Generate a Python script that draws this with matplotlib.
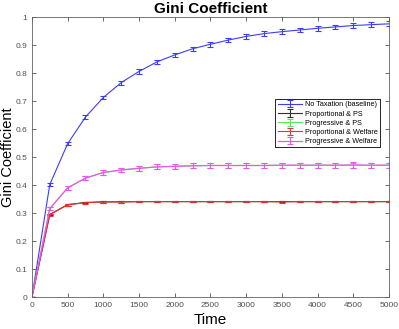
import numpy as np
import matplotlib
matplotlib.use('Agg')
import matplotlib.pyplot as plt

plt.rcParams['font.family'] = ['Liberation Sans', 'DejaVu Sans']

# Datos
tiempo = [0, 250, 500, 750, 1000, 1250, 1500, 1750, 2000, 2250, 2500,
          2750, 3000, 3250, 3500, 3750, 4000, 4250, 4500, 4750, 5000]

sin_impuestos = [0, 0.402, 0.548, 0.643, 0.713, 0.766, 0.806, 0.840, 0.865, 0.887, 0.903,
                 0.918, 0.931, 0.941, 0.948, 0.954, 0.960, 0.965, 0.970, 0.973, 0.976]
err_sin = [0, 0.005, 0.006, 0.006, 0.007, 0.007, 0.008, 0.008, 0.008, 0.008, 0.008,
           0.008, 0.008, 0.008, 0.008, 0.008, 0.008, 0.008, 0.009, 0.008, 0.009]

prop_ps = [0, 0.295, 0.330, 0.338, 0.340, 0.340, 0.341, 0.341, 0.341, 0.341, 0.341,
           0.341, 0.341, 0.341, 0.341, 0.341, 0.341, 0.341, 0.341, 0.341, 0.341]
err_prop_ps = [0, 0.003, 0.003, 0.003, 0.003, 0.003, 0.003, 0.003, 0.003, 0.003, 0.003,
               0.003, 0.003, 0.003, 0.003, 0.003, 0.003, 0.003, 0.003, 0.003, 0.003]

prog_ps = [0, 0.316, 0.390, 0.425, 0.445, 0.454, 0.460, 0.465, 0.467, 0.469, 0.470,
           0.470, 0.470, 0.470, 0.471, 0.471, 0.471, 0.471, 0.471, 0.471, 0.471]
err_prog_ps = [0, 0.006, 0.007, 0.007, 0.008, 0.008, 0.009, 0.009, 0.009, 0.009, 0.009,
               0.009, 0.009, 0.009, 0.009, 0.009, 0.009, 0.009, 0.009, 0.009, 0.009]

prop_welfare = [0, 0.294, 0.330, 0.337, 0.340, 0.340, 0.341, 0.341, 0.341, 0.341, 0.341,
                0.341, 0.341, 0.341, 0.340, 0.341, 0.341, 0.341, 0.341, 0.341, 0.341]
err_prop_welfare = [0, 0.003, 0.003, 0.003, 0.003, 0.003, 0.003, 0.003, 0.003, 0.003, 0.003,
                    0.003, 0.003, 0.003, 0.003, 0.003, 0.003, 0.003, 0.003, 0.003, 0.003]

prog_welfare = [0, 0.316, 0.390, 0.425, 0.445, 0.454, 0.460, 0.465, 0.467, 0.469, 0.470,
                0.470, 0.470, 0.470, 0.471, 0.471, 0.471, 0.471, 0.472, 0.471, 0.471]
err_prog_welfare = [0, 0.006, 0.007, 0.007, 0.008, 0.008, 0.009, 0.009, 0.009, 0.009, 0.009,
                    0.009, 0.009, 0.009, 0.009, 0.009, 0.009, 0.009, 0.010, 0.009, 0.009]

series = [
    ('No Taxation (baseline)', sin_impuestos, err_sin, '#3c3cff', 0.8),
    ('Proportional & PS', prop_ps, err_prop_ps, '#303030', 0.8),
    ('Progressive & PS', prog_ps, err_prog_ps, '#5ce65c', 0.8),
    ('Proportional & Welfare', prop_welfare, err_prop_welfare, '#ee3030', 0.8),
    ('Progressive & Welfare', prog_welfare, err_prog_welfare, '#ee55ee', 0.9),
]

fig = plt.figure(figsize=(3.99, 3.29), dpi=100)
ax = fig.add_axes([0.080, 0.097, 0.895, 0.851])

for nombre, y, e, color, lw in series:
    ax.errorbar(tiempo, y, yerr=e, color=color, lw=lw, elinewidth=0.8,
                capsize=2.5, capthick=0.8, label=nombre)

ax.set_xlim(0, 5000)
ax.set_ylim(0, 1)
ax.set_xticks(np.arange(0, 5001, 500))
ax.set_yticks(np.arange(0, 1.01, 0.1))
ax.set_yticklabels(['0', '0.1', '0.2', '0.3', '0.4', '0.5', '0.6', '0.7', '0.8', '0.9', '1'])
ax.tick_params(direction='in', top=True, right=True, labelsize=6,
               colors='#505050', length=3, width=0.6, pad=3.5)
for s in ax.spines.values():
    s.set_color('#606060')
    s.set_linewidth(0.6)

ax.set_xlabel('Time', fontsize=11, labelpad=3)
ax.set_ylabel('Gini Coefficient', fontsize=10.5)
ax.yaxis.set_label_coords(-0.048, 0.5)
ax.set_title('Gini Coefficient', fontsize=11, fontweight='bold', pad=3)

leg = ax.legend(loc='upper right', bbox_to_anchor=(0.985, 0.72), fontsize=5.2,
                fancybox=False, edgecolor='black', framealpha=1,
                borderpad=0.3, labelspacing=0.3, handlelength=3.4, handletextpad=0.4)
leg.get_frame().set_linewidth(0.6)

fig.savefig('out.png', dpi=100)
